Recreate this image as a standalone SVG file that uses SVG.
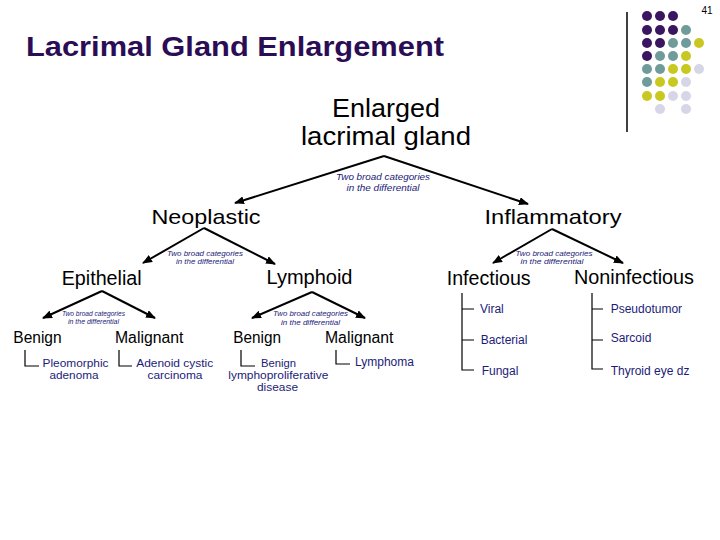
<svg xmlns="http://www.w3.org/2000/svg" width="720" height="540" viewBox="0 0 720 540">
<defs>
<marker id="ah" markerUnits="userSpaceOnUse" markerWidth="10" markerHeight="8" refX="9" refY="4" orient="auto">
<path d="M0,0 L10,4 L0,8 z" fill="#000"/>
</marker>
<style>
.t{font-family:"Liberation Sans",Arial,sans-serif;fill:#000}
.big{font-size:21px;text-anchor:middle}
.mid{font-size:16px}
.lab{font-family:"Liberation Sans",Arial,sans-serif;font-style:italic;fill:#1a1a78;text-anchor:middle}
.sub{font-family:"Liberation Sans",Arial,sans-serif;font-size:12px;fill:#1c1c78}
.ss{font-size:11.5px;text-anchor:middle}
.arr{stroke:#000;stroke-width:2;fill:none;marker-end:url(#ah)}
.br{stroke:#000;stroke-width:1.2;fill:none}
.p{fill:#3a1660}.g{fill:#6f9b9b}.y{fill:#c9c820}.l{fill:#d6d6e8}
</style>
</defs>
<rect width="720" height="540" fill="#fff"/>

<g id="decor">
<text x="707" y="14" class="t" style="font-size:10px;text-anchor:middle">41</text>
<line x1="627" y1="12" x2="627" y2="132" stroke="#000" stroke-width="1.5"/>
<circle class="p" cx="647" cy="16" r="5"/><circle class="p" cx="660" cy="16" r="5"/><circle class="p" cx="673" cy="16" r="5"/>
<circle class="p" cx="647" cy="30" r="5"/><circle class="p" cx="660" cy="30" r="5"/><circle class="p" cx="673" cy="30" r="5"/><circle class="g" cx="686" cy="30" r="5"/>
<circle class="p" cx="647" cy="43" r="5"/><circle class="p" cx="660" cy="43" r="5"/><circle class="g" cx="673" cy="43" r="5"/><circle class="g" cx="686" cy="43" r="5"/><circle class="y" cx="699" cy="43" r="5"/>
<circle class="p" cx="647" cy="56" r="5"/><circle class="g" cx="660" cy="56" r="5"/><circle class="g" cx="673" cy="56" r="5"/><circle class="y" cx="686" cy="56" r="5"/>
<circle class="g" cx="647" cy="69" r="5"/><circle class="g" cx="660" cy="69" r="5"/><circle class="y" cx="673" cy="69" r="5"/><circle class="y" cx="686" cy="69" r="5"/><circle class="l" cx="699" cy="69" r="5"/>
<circle class="g" cx="647" cy="82" r="5"/><circle class="y" cx="660" cy="82" r="5"/><circle class="y" cx="673" cy="82" r="5"/><circle class="l" cx="686" cy="82" r="5"/>
<circle class="y" cx="647" cy="96" r="5"/><circle class="y" cx="660" cy="96" r="5"/><circle class="l" cx="673" cy="96" r="5"/><circle class="l" cx="686" cy="96" r="5"/>
<circle class="l" cx="660" cy="109" r="5"/><circle class="l" cx="686" cy="109" r="5"/>
</g>

<g id="title">
<text x="26" y="55.5" style="font-family:'Liberation Sans',Arial,sans-serif;font-weight:bold;font-size:28px;fill:#2a0d55" textLength="418" lengthAdjust="spacingAndGlyphs">Lacrimal Gland Enlargement</text>
</g>

<g id="connectors">
<line class="arr" x1="384" y1="156" x2="235" y2="203"/>
<line class="arr" x1="384" y1="156" x2="528" y2="204"/>
<line class="arr" x1="204" y1="228" x2="143" y2="263"/>
<line class="arr" x1="204" y1="228" x2="275" y2="264"/>
<line class="arr" x1="552" y1="229" x2="493" y2="263"/>
<line class="arr" x1="552" y1="229" x2="623" y2="263"/>
<line class="arr" x1="102" y1="291" x2="43" y2="318"/>
<line class="arr" x1="102" y1="291" x2="155" y2="318"/>
<line class="arr" x1="312" y1="292" x2="252" y2="318"/>
<line class="arr" x1="312" y1="292" x2="365" y2="318"/>
<path class="br" d="M25,350 V366 H39"/>
<path class="br" d="M119,350 V366 H132"/>
<path class="br" d="M241,350 V366 H255"/>
<path class="br" d="M336,350 V364 H350"/>
<path class="br" d="M462,293 V370 H474 M462,309 H474 M462,340 H474"/>
<path class="br" d="M592,293 V369 H603 M592,309 H603 M592,340 H603"/>
</g>

<g id="labels">
<text class="lab" x="383" y="180" style="font-size:9.5px" textLength="94" lengthAdjust="spacingAndGlyphs">Two broad categories</text>
<text class="lab" x="383" y="191" style="font-size:9.5px" textLength="73" lengthAdjust="spacingAndGlyphs">in the differential</text>
<text class="lab" x="205" y="256" style="font-size:8px" textLength="76" lengthAdjust="spacingAndGlyphs">Two broad categories</text>
<text class="lab" x="205" y="264" style="font-size:8px" textLength="58" lengthAdjust="spacingAndGlyphs">in the differential</text>
<text class="lab" x="554" y="256" style="font-size:8px" textLength="77" lengthAdjust="spacingAndGlyphs">Two broad categories</text>
<text class="lab" x="552" y="264" style="font-size:8px" textLength="63" lengthAdjust="spacingAndGlyphs">in the differential</text>
<text class="lab" x="93.5" y="316" style="font-size:7px" textLength="63" lengthAdjust="spacingAndGlyphs">Two broad categories</text>
<text class="lab" x="93.5" y="324" style="font-size:7px" textLength="51" lengthAdjust="spacingAndGlyphs">in the differential</text>
<text class="lab" x="310.5" y="316" style="font-size:8px" textLength="75" lengthAdjust="spacingAndGlyphs">Two broad categories</text>
<text class="lab" x="310.5" y="324.5" style="font-size:8px" textLength="59" lengthAdjust="spacingAndGlyphs">in the differential</text>
</g>

<g id="n-root">
<text class="t" x="386" y="117" style="font-size:26px;text-anchor:middle" textLength="108" lengthAdjust="spacingAndGlyphs">Enlarged</text>
<text class="t" x="386" y="145" style="font-size:26px;text-anchor:middle" textLength="170" lengthAdjust="spacingAndGlyphs">lacrimal gland</text>
</g>
<g id="n-neoplastic"><text class="t big" x="206" y="223.5" textLength="109" lengthAdjust="spacingAndGlyphs">Neoplastic</text></g>
<g id="n-inflammatory"><text class="t big" x="553" y="224" textLength="137" lengthAdjust="spacingAndGlyphs">Inflammatory</text></g>
<g id="n-epithelial"><text class="t big" x="101.7" y="285" style="font-size:20px" textLength="80" lengthAdjust="spacingAndGlyphs">Epithelial</text></g>
<g id="n-lymphoid"><text class="t big" x="309.5" y="284" style="font-size:20px" textLength="86" lengthAdjust="spacingAndGlyphs">Lymphoid</text></g>
<g id="n-infectious"><text class="t big" x="488.7" y="285" style="font-size:20px" textLength="84" lengthAdjust="spacingAndGlyphs">Infectious</text></g>
<g id="n-noninfectious"><text class="t big" x="634" y="284" style="font-size:20px" textLength="120" lengthAdjust="spacingAndGlyphs">Noninfectious</text></g>

<g id="n-benign1"><text class="t mid" x="13.3" y="343" textLength="48.3" lengthAdjust="spacingAndGlyphs">Benign</text></g>
<g id="n-malignant1"><text class="t mid" x="115" y="343" textLength="68.3" lengthAdjust="spacingAndGlyphs">Malignant</text></g>
<g id="n-benign2"><text class="t mid" x="233.3" y="343" textLength="47.7" lengthAdjust="spacingAndGlyphs">Benign</text></g>
<g id="n-malignant2"><text class="t mid" x="325" y="343" textLength="68.3" lengthAdjust="spacingAndGlyphs">Malignant</text></g>

<g id="n-pleomorphic"><text class="sub ss" x="75.5" y="366.5" textLength="66" lengthAdjust="spacingAndGlyphs">Pleomorphic</text><text class="sub ss" x="74" y="379" textLength="49" lengthAdjust="spacingAndGlyphs">adenoma</text></g>
<g id="n-adenoid"><text class="sub ss" x="174.7" y="366.5" textLength="77" lengthAdjust="spacingAndGlyphs">Adenoid cystic</text><text class="sub ss" x="175" y="379" textLength="55" lengthAdjust="spacingAndGlyphs">carcinoma</text></g>
<g id="n-blpd"><text class="sub ss" x="278.5" y="366.5" textLength="35" lengthAdjust="spacingAndGlyphs">Benign</text><text class="sub ss" x="278.3" y="379" textLength="100" lengthAdjust="spacingAndGlyphs">lymphoproliferative</text><text class="sub ss" x="277.5" y="391" textLength="41" lengthAdjust="spacingAndGlyphs">disease</text></g>
<g id="n-lymphoma"><text class="sub" x="355" y="366">Lymphoma</text></g>

<g id="n-viral"><text class="sub" x="480" y="312.5">Viral</text></g>
<g id="n-bacterial"><text class="sub" x="480.7" y="344">Bacterial</text></g>
<g id="n-fungal"><text class="sub" x="481.7" y="375">Fungal</text></g>
<g id="n-pseudotumor"><text class="sub" x="610.7" y="312.5">Pseudotumor</text></g>
<g id="n-sarcoid"><text class="sub" x="610.7" y="341.5">Sarcoid</text></g>
<g id="n-thyroid"><text class="sub" x="610.7" y="375">Thyroid eye dz</text></g>
</svg>
